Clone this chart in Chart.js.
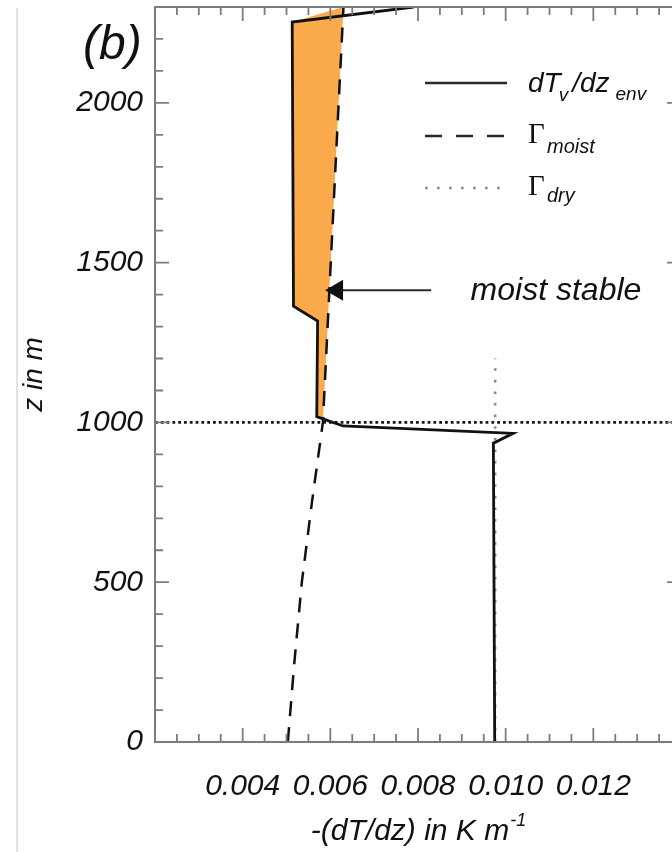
<!DOCTYPE html>
<html>
<head>
<meta charset="utf-8">
<script src="https://cdn.jsdelivr.net/npm/chart.js@4.4.1/dist/chart.umd.min.js"></script>
<style>
  html, body { margin: 0; padding: 0; background: #fff; overflow: hidden; }
  #wrap { position: relative; width: 672px; height: 852px; overflow: hidden; }
  #chart-box { position: absolute; left: 0; top: 0; width: 700px; height: 852px; }
  #edge { position: absolute; left: 16px; top: 8px; bottom: 0; width: 2px; background: #e3e3e3; }
</style>
</head>
<body>
<div id="wrap">
  <div id="chart-box"><canvas id="profile-chart" width="700" height="852"></canvas></div>
  <div id="edge"></div>
</div>
<script>
// environment virtual temperature gradient -(dTv/dz), K/m, against height in m
const envGradient = [0.00975, 0.00972, 0.01017, 0.00629, 0.00569, 0.00571, 0.00516, 0.00513, 0.00790];
const envHeight   = [0, 935, 966, 989, 1018, 1317, 1364, 2253, 2300];

// moist adiabatic lapse rate
const moistGradient = [0.00503, 0.00518, 0.00535, 0.00558, 0.00583, 0.00592, 0.00601, 0.00610, 0.00619, 0.00630];
const moistHeight   = [0, 250, 500, 750, 1000, 1250, 1500, 1750, 2000, 2300];

// dry adiabatic lapse rate, drawn up to 1200 m
const dryGradient = [0.00976, 0.00976];
const dryHeight   = [0, 1200];

const cloudBase = 1000;
const xTicks = [0.004, 0.006, 0.008, 0.010, 0.012];
const yTicks = [0, 500, 1000, 1500, 2000];

const X_MIN = 0.002, X_MAX = 0.014, Y_MIN = 0, Y_MAX = 2300;

const toPoints = (xs, ys) => xs.map((x, i) => ({ x: x, y: ys[i] }));

function moistAt(z) {
  for (let i = 1; i < moistHeight.length; i++) {
    if (z <= moistHeight[i]) {
      const t = (z - moistHeight[i - 1]) / (moistHeight[i] - moistHeight[i - 1]);
      return moistGradient[i - 1] + t * (moistGradient[i] - moistGradient[i - 1]);
    }
  }
  return moistGradient[moistGradient.length - 1];
}

// polygon between the environment profile and the moist adiabat, above the crossing
function stableLayer() {
  const topZ = moistHeight[moistHeight.length - 1];
  const pts = [];
  for (let i = 1; i < envHeight.length; i++) {
    const z0 = envHeight[i - 1], z1 = envHeight[i];
    const d0 = envGradient[i - 1] - moistAt(z0);
    const d1 = envGradient[i] - moistAt(z1);
    if (!pts.length && d0 > 0 && d1 <= 0) {
      const z = z0 + d0 / (d0 - d1) * (z1 - z0);
      pts.push({ x: moistAt(z), y: z });
    }
    if (pts.length && z1 < topZ) pts.push({ x: envGradient[i], y: z1 });
  }
  const zStart = pts[0].y;
  for (let i = moistHeight.length - 1; i >= 0 && moistHeight[i] > zStart; i--) {
    pts.push({ x: moistGradient[i], y: moistHeight[i] });
  }
  return pts;
}

const tickFont = { family: 'Liberation Sans', style: 'italic', size: 30 };
const ink = '#111';
const frameGrey = '#7c7c7c';

// no extra room for half tick labels: the frame sits exactly where the layout puts it
function noScalePadding(scale) {
  scale.paddingTop = 0;
  scale.paddingBottom = 0;
  scale.paddingLeft = 0;
  scale.paddingRight = 0;
}

// frame with inward ticks, legend and annotations
const decorations = {
  id: 'decorations',
  afterDraw(chart) {
    const { ctx, chartArea: a, scales: { x, y } } = chart;
    ctx.save();

    ctx.strokeStyle = frameGrey;
    ctx.lineWidth = 2;
    ctx.strokeRect(a.left, a.top, a.right - a.left, a.bottom - a.top);

    ctx.lineWidth = 1.8;
    ctx.beginPath();
    for (let k = 0; k <= 24; k++) {
      const px = x.getPixelForValue(X_MIN + k * 0.0005);
      const len = k % 4 === 0 ? 14 : 8;
      ctx.moveTo(px, a.bottom); ctx.lineTo(px, a.bottom - len);
      ctx.moveTo(px, a.top); ctx.lineTo(px, a.top + len);
    }
    for (let z = Y_MIN; z <= Y_MAX; z += 100) {
      const py = y.getPixelForValue(z);
      const len = z % 500 === 0 ? 14 : 8;
      ctx.moveTo(a.left, py); ctx.lineTo(a.left + len, py);
      ctx.moveTo(a.right, py); ctx.lineTo(a.right - len, py);
    }
    ctx.stroke();

    // legend
    const lx0 = 425, lx1 = 507, tx = 528;
    ctx.strokeStyle = '#2a2a2a';
    ctx.lineWidth = 2.6;
    ctx.beginPath(); ctx.moveTo(lx0, 83); ctx.lineTo(lx1, 83); ctx.stroke();
    ctx.setLineDash([17, 14]);
    ctx.beginPath(); ctx.moveTo(lx0, 136); ctx.lineTo(lx1, 136); ctx.stroke();
    ctx.strokeStyle = '#888';
    ctx.setLineDash([2.6, 9.4]);
    ctx.beginPath(); ctx.moveTo(lx0, 188); ctx.lineTo(lx1, 188); ctx.stroke();
    ctx.setLineDash([]);

    ctx.fillStyle = ink;
    ctx.textBaseline = 'alphabetic';
    ctx.textAlign = 'left';
    const big = 'italic 28px "Liberation Sans"';
    const sub = 'italic 19px "Liberation Sans"';
    let cx = tx;
    ctx.font = big; ctx.fillText('dT', cx, 92); cx += ctx.measureText('dT').width;
    ctx.font = sub; ctx.fillText('v', cx - 2, 101); cx += ctx.measureText('v').width + 2;
    ctx.font = big; ctx.fillText('/dz', cx, 92); cx += ctx.measureText('/dz').width + 6;
    ctx.font = sub; ctx.fillText('env', cx, 100);

    ctx.font = '29px "Liberation Serif"';
    ctx.fillText('\u0393', tx, 143);
    ctx.fillText('\u0393', tx, 195);
    ctx.font = 'italic 20px "Liberation Sans"';
    ctx.fillText('moist', tx + 19, 153);
    ctx.fillText('dry', tx + 19, 202);

    // arrow onto the stable layer
    const tipX = x.getPixelForValue(0.00588), tailX = x.getPixelForValue(0.0083);
    const ay = y.getPixelForValue(1414);
    ctx.strokeStyle = '#2a2a2a';
    ctx.lineWidth = 2;
    ctx.beginPath(); ctx.moveTo(tailX, ay); ctx.lineTo(tipX + 16, ay); ctx.stroke();
    ctx.fillStyle = '#111';
    ctx.beginPath();
    ctx.moveTo(tipX, ay); ctx.lineTo(tipX + 18, ay - 10.5); ctx.lineTo(tipX + 18, ay + 10.5);
    ctx.closePath(); ctx.fill();

    ctx.fillStyle = ink;
    ctx.font = 'italic 32px "Liberation Sans"';
    ctx.fillText('moist stable', x.getPixelForValue(0.0092), y.getPixelForValue(1383));

    // panel letter
    ctx.font = 'italic 48px "Liberation Sans"';
    ctx.fillText('(b)', 83, 59);

    // x axis title with superscript
    const main = '-(dT/dz) in K m';
    ctx.font = 'italic 30px "Liberation Sans"';
    const wMain = ctx.measureText(main).width;
    ctx.font = 'italic 18px "Liberation Sans"';
    const wSup = ctx.measureText('-1').width;
    const startX = (a.left + a.right) / 2 - (wMain + wSup) / 2;
    ctx.font = 'italic 30px "Liberation Sans"';
    ctx.fillText(main, startX, 840);
    ctx.font = 'italic 18px "Liberation Sans"';
    ctx.fillText('-1', startX + wMain + 1, 826);

    ctx.restore();
  }
};

new Chart(document.getElementById('profile-chart'), {
  type: 'scatter',
  data: {
    datasets: [
      {
        label: 'moist stable',
        data: stableLayer(),
        showLine: true,
        fill: 'shape',
        backgroundColor: 'rgb(251,170,76)',
        borderColor: 'rgba(0,0,0,0)',
        borderWidth: 0,
        pointRadius: 0,
        order: 5
      },
      {
        label: 'dry',
        data: toPoints(dryGradient, dryHeight),
        showLine: true,
        borderColor: '#8a8a8a',
        borderWidth: 2.6,
        borderDash: [2.6, 9],
        pointRadius: 0,
        order: 4
      },
      {
        label: 'cloud base',
        data: [{ x: X_MIN, y: cloudBase }, { x: X_MAX, y: cloudBase }],
        showLine: true,
        borderColor: '#15162a',
        borderWidth: 2.8,
        borderDash: [2.8, 3],
        pointRadius: 0,
        order: 3
      },
      {
        label: 'moist',
        data: toPoints(moistGradient, moistHeight),
        showLine: true,
        borderColor: '#111',
        borderWidth: 2.5,
        borderDash: [15, 11],
        pointRadius: 0,
        order: 2
      },
      {
        label: 'env',
        data: toPoints(envGradient, envHeight),
        showLine: true,
        borderColor: '#111',
        borderWidth: 2.8,
        pointRadius: 0,
        order: 1
      }
    ]
  },
  options: {
    responsive: false,
    animation: false,
    layout: { padding: { top: 7, right: 19, left: 0, bottom: 0 } },
    plugins: {
      legend: { display: false },
      tooltip: { enabled: false }
    },
    scales: {
      x: {
        type: 'linear',
        min: X_MIN,
        max: X_MAX,
        afterFit(scale) { scale.height = 110; noScalePadding(scale); },
        afterBuildTicks(scale) { scale.ticks = xTicks.map(v => ({ value: v })); },
        grid: { display: false, drawTicks: false },
        border: { display: false },
        ticks: {
          font: tickFont,
          color: ink,
          padding: 27,
          maxRotation: 0,
          autoSkip: false,
          callback: v => v.toFixed(3)
        }
      },
      y: {
        type: 'linear',
        min: Y_MIN,
        max: Y_MAX,
        afterFit(scale) { scale.width = 155; noScalePadding(scale); },
        afterBuildTicks(scale) { scale.ticks = yTicks.map(v => ({ value: v })); },
        grid: { display: false, drawTicks: false },
        border: { display: false },
        ticks: { font: tickFont, color: ink, padding: 12, callback: v => String(v) },
        title: {
          display: true,
          text: 'z in m',
          font: { family: 'Liberation Sans', style: 'italic', size: 28 },
          color: ink,
          padding: { top: 17, bottom: 0 }
        }
      }
    }
  },
  plugins: [decorations]
});
</script>
</body>
</html>
